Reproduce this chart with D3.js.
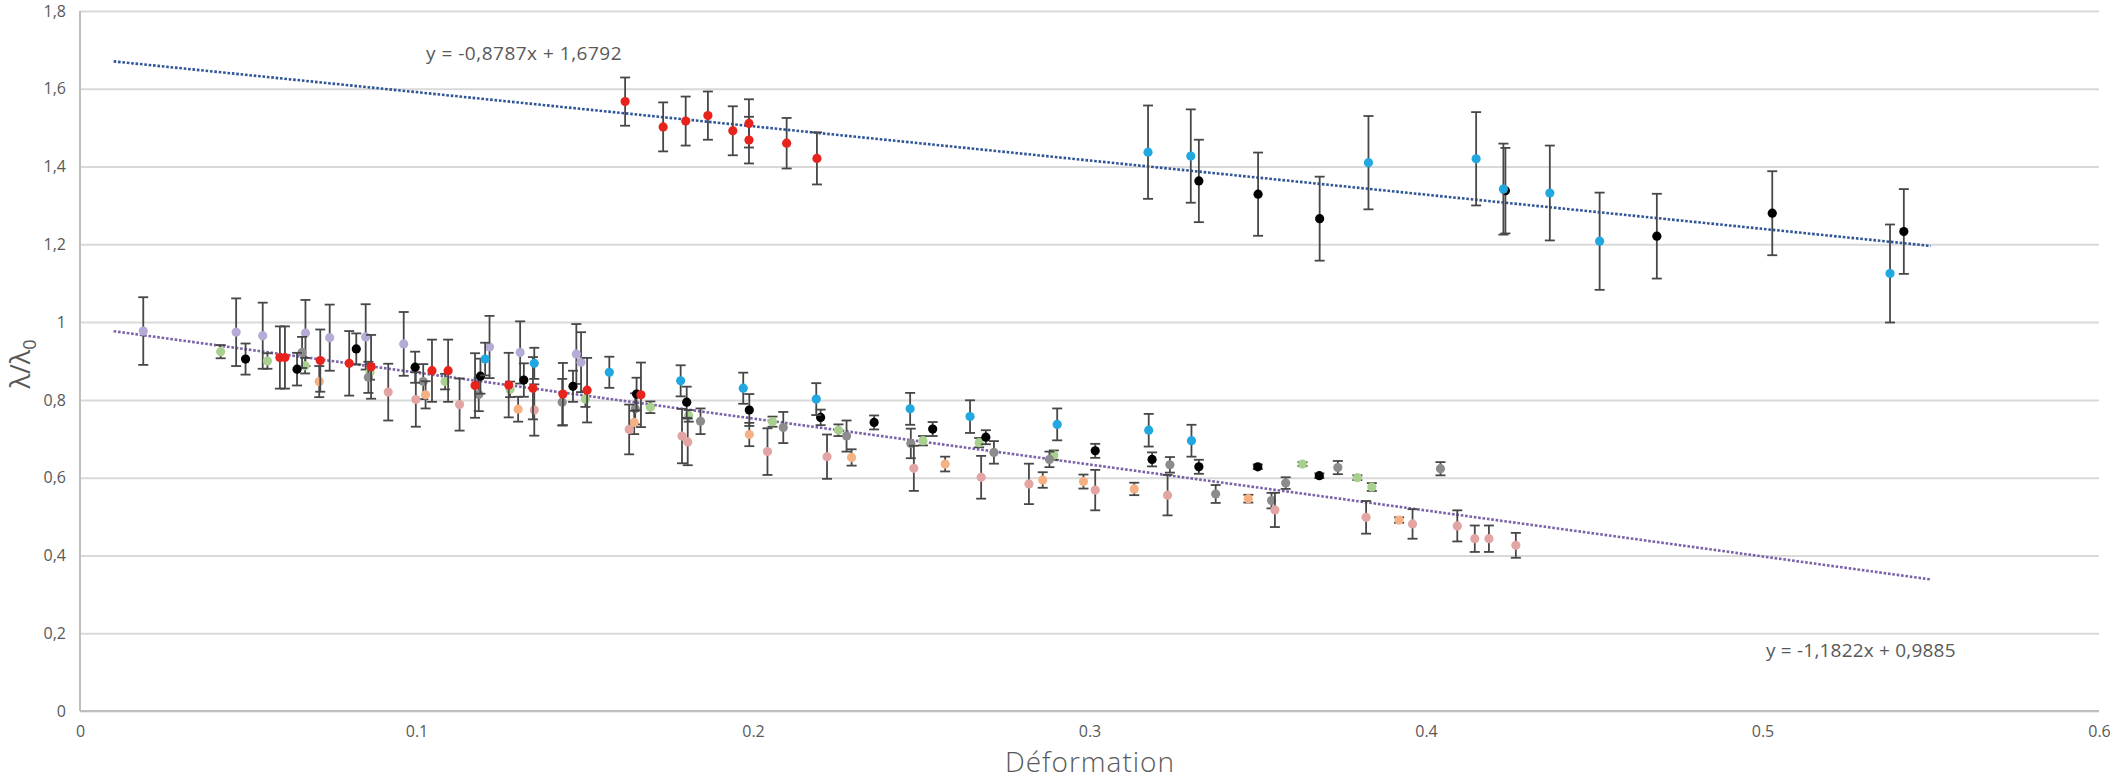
<!DOCTYPE html>
<html>
<head>
<meta charset="utf-8">
<script src="https://cdn.jsdelivr.net/npm/d3@7"></script>
<style>
  body { margin: 0; background: #fff; }
  svg { display: block; }
</style>
</head>
<body>
<div id="chart"></div>
<script>
// ---- data: each point is [deformation, lambda/lambda0, error] ----
const lavender = [
  [0.0188, 0.977, 0.087], [0.0464, 0.974, 0.087], [0.0543, 0.965, 0.085],
  [0.0670, 0.972, 0.085], [0.0742, 0.960, 0.085], [0.0849, 0.962, 0.084],
  [0.0962, 0.944, 0.082], [0.1217, 0.936, 0.080], [0.1308, 0.922, 0.080],
  [0.1475, 0.918, 0.077], [0.1489, 0.897, 0.077]
];
const green = [
  [0.0418, 0.924, 0.017], [0.0557, 0.900, 0.020], [0.0669, 0.888, 0.020],
  [0.0862, 0.872, 0.020], [0.1085, 0.847, 0.020], [0.1278, 0.827, 0.020],
  [0.1502, 0.802, 0.020], [0.1695, 0.781, 0.015], [0.1809, 0.759, 0.015],
  [0.2058, 0.744, 0.013], [0.2254, 0.722, 0.015], [0.2505, 0.695, 0.012],
  [0.2672, 0.690, 0.012], [0.2894, 0.658, 0.012], [0.3633, 0.635, 0.005],
  [0.3796, 0.600, 0.006], [0.3839, 0.576, 0.010]
];
const gray = [
  [0.0660, 0.922, 0.040], [0.0857, 0.858, 0.040], [0.1020, 0.847, 0.045],
  [0.1185, 0.814, 0.043], [0.1433, 0.794, 0.060], [0.1650, 0.777, 0.040],
  [0.1844, 0.745, 0.033], [0.2090, 0.729, 0.040], [0.2278, 0.707, 0.040],
  [0.2469, 0.688, 0.038], [0.2716, 0.665, 0.029], [0.2881, 0.647, 0.020],
  [0.3239, 0.633, 0.020], [0.3375, 0.558, 0.023], [0.3541, 0.541, 0.020],
  [0.3583, 0.586, 0.015], [0.3738, 0.626, 0.017], [0.4043, 0.623, 0.017]
];
const orange = [
  [0.0711, 0.847, 0.040], [0.1027, 0.813, 0.035], [0.1302, 0.776, 0.032],
  [0.1647, 0.742, 0.030], [0.1989, 0.711, 0.030], [0.2293, 0.652, 0.021],
  [0.2571, 0.635, 0.019], [0.2861, 0.594, 0.020], [0.2982, 0.590, 0.018],
  [0.3133, 0.571, 0.016], [0.3472, 0.546, 0.010], [0.3920, 0.491, 0.007]
];
const pink = [
  [0.0916, 0.820, 0.073], [0.0998, 0.801, 0.070], [0.1128, 0.788, 0.067],
  [0.1350, 0.774, 0.066], [0.1632, 0.724, 0.064], [0.1789, 0.707, 0.070],
  [0.1806, 0.692, 0.060], [0.2043, 0.667, 0.060], [0.2220, 0.654, 0.057],
  [0.2478, 0.624, 0.058], [0.2678, 0.601, 0.055], [0.2820, 0.584, 0.052],
  [0.3017, 0.568, 0.052], [0.3232, 0.555, 0.052], [0.3551, 0.517, 0.044],
  [0.3822, 0.498, 0.042], [0.3960, 0.481, 0.038], [0.4093, 0.476, 0.040],
  [0.4145, 0.443, 0.034], [0.4187, 0.443, 0.034], [0.4267, 0.426, 0.032]
];
const black = [
  [0.0492, 0.905, 0.040], [0.0645, 0.879, 0.042], [0.0821, 0.931, 0.040],
  [0.0996, 0.884, 0.040], [0.1190, 0.861, 0.045], [0.1319, 0.851, 0.043],
  [0.1465, 0.835, 0.040], [0.1654, 0.815, 0.042], [0.1803, 0.794, 0.040],
  [0.1989, 0.774, 0.041], [0.2201, 0.755, 0.020], [0.2360, 0.742, 0.018],
  [0.2534, 0.725, 0.018], [0.2692, 0.704, 0.018], [0.3017, 0.669, 0.018],
  [0.3186, 0.647, 0.018], [0.3325, 0.628, 0.018], [0.3500, 0.628, 0.006],
  [0.3683, 0.605, 0.006],
  [0.3325, 1.363, 0.106], [0.3501, 1.329, 0.107], [0.3684, 1.266, 0.108],
  [0.4236, 1.338, 0.110], [0.4686, 1.221, 0.109], [0.5029, 1.280, 0.108],
  [0.5420, 1.233, 0.109]
];
const red = [
  [0.0594, 0.909, 0.080], [0.0609, 0.909, 0.080], [0.0714, 0.901, 0.080],
  [0.0800, 0.894, 0.083], [0.0865, 0.885, 0.082], [0.1046, 0.875, 0.080],
  [0.1094, 0.875, 0.080], [0.1174, 0.837, 0.083], [0.1274, 0.838, 0.083],
  [0.1346, 0.830, 0.080], [0.1435, 0.815, 0.080], [0.1507, 0.825, 0.083],
  [0.1667, 0.813, 0.083],
  [0.1620, 1.567, 0.062], [0.1733, 1.502, 0.063], [0.1800, 1.517, 0.063],
  [0.1866, 1.531, 0.062], [0.1940, 1.492, 0.063], [0.1988, 1.511, 0.062],
  [0.1988, 1.468, 0.060], [0.2100, 1.460, 0.065], [0.2190, 1.421, 0.067]
];
const blue = [
  [0.1204, 0.905, 0.042], [0.1350, 0.894, 0.040], [0.1573, 0.871, 0.040],
  [0.1785, 0.849, 0.040], [0.1971, 0.830, 0.040], [0.2188, 0.802, 0.041],
  [0.2467, 0.777, 0.041], [0.2645, 0.757, 0.042], [0.2904, 0.737, 0.041],
  [0.3176, 0.722, 0.042], [0.3303, 0.695, 0.041],
  [0.3174, 1.437, 0.120], [0.3301, 1.427, 0.120], [0.3829, 1.410, 0.120],
  [0.4149, 1.420, 0.120], [0.4230, 1.342, 0.117], [0.4368, 1.332, 0.122],
  [0.4516, 1.208, 0.125], [0.5379, 1.125, 0.126]
];

// linear trendlines: [slope, intercept], drawn from 0.01 to 0.55
const trendUpper = [-0.8787, 1.6792];
const trendLower = [-1.1822, 0.9885];
const trendRange = [0.01, 0.55];
const trendLabels = ["y = -0,8787x + 1,6792", "y = -1,1822x + 0,9885"];

const xTicks = [0, 0.1, 0.2, 0.3, 0.4, 0.5, 0.6];
const xTickLabels = ["0", "0.1", "0.2", "0.3", "0.4", "0.5", "0.6"];
const yTicks = [0, 0.2, 0.4, 0.6, 0.8, 1, 1.2, 1.4, 1.6, 1.8];
const yTickLabels = ["0", "0,2", "0,4", "0,6", "0,8", "1", "1,2", "1,4", "1,6", "1,8"];

// ========================
// Setup
// ========================
const width = 2114, height = 780;
const plot = { left: 80, right: 2099, top: 11, bottom: 711 };
const textColor = "#595959";
const tickFont = "'Liberation Sans Narrow', 'Arial Narrow', 'Open Sans', sans-serif";

const svg = d3.select("#chart").append("svg")
  .attr("width", width)
  .attr("height", height)
  .style("background", "#fff");

const x = d3.scaleLinear().domain([0, 0.6]).range([plot.left, plot.right]);
const y = d3.scaleLinear().domain([0, 1.8]).range([plot.bottom, plot.top]);

// --- gridlines + y labels ---
const yAxis = svg.append("g")
  .attr("transform", `translate(${plot.left},0)`)
  .call(d3.axisLeft(y)
    .tickValues(yTicks)
    .tickSize(-(plot.right - plot.left))
    .tickPadding(14)
    .tickFormat((d, i) => yTickLabels[i]));
yAxis.select(".domain").remove();
yAxis.selectAll(".tick line")
  .attr("stroke", "#d9d9d9")
  .attr("stroke-width", 2);
yAxis.selectAll(".tick text")
  .attr("fill", textColor)
  .style("font-family", tickFont)
  .style("font-size", "16px");

// --- x labels ---
const xAxis = svg.append("g")
  .attr("transform", `translate(0,${plot.bottom})`)
  .call(d3.axisBottom(x)
    .tickValues(xTicks)
    .tickSize(0)
    .tickPadding(15)
    .tickFormat((d, i) => xTickLabels[i]));
xAxis.select(".domain").remove();
xAxis.selectAll(".tick text")
  .attr("fill", textColor)
  .style("font-family", tickFont)
  .style("font-size", "16px");

// axis lines
svg.append("line")
  .attr("x1", plot.left).attr("x2", plot.left)
  .attr("y1", plot.top).attr("y2", plot.bottom)
  .attr("stroke", "#bfbfbf").attr("stroke-width", 2);
svg.append("line")
  .attr("x1", plot.left).attr("x2", plot.right)
  .attr("y1", plot.bottom).attr("y2", plot.bottom)
  .attr("stroke", "#bfbfbf").attr("stroke-width", 2);

// --- trendlines ---
function drawTrend(coef, color) {
  const pts = trendRange.map(v => [x(v), y(coef[0] * v + coef[1])]);
  svg.append("path")
    .attr("d", d3.line()(pts))
    .attr("fill", "none")
    .attr("stroke", color)
    .attr("stroke-width", 2.6)
    .attr("stroke-dasharray", "2.6,1.8");
}
drawTrend(trendUpper, "#2f5597");
drawTrend(trendLower, "#7a62a8");

// --- series (error bars then markers) ---
const series = [
  { data: lavender, color: "#b6abd6" },
  { data: green, color: "#a9d08e" },
  { data: gray, color: "#8c8c8c" },
  { data: orange, color: "#f5b183" },
  { data: pink, color: "#e3a5a3" },
  { data: black, color: "#000000" },
  { data: red, color: "#e8231c" },
  { data: blue, color: "#22a8e0" }
];
const cap = 5;

series.forEach(s => {
  const g = svg.append("g");
  const bars = g.selectAll(".err")
    .data(s.data)
    .enter()
    .append("g")
    .attr("class", "err")
    .attr("stroke", "#474747")
    .attr("stroke-width", 1.8);
  bars.append("line")
    .attr("x1", d => x(d[0])).attr("x2", d => x(d[0]))
    .attr("y1", d => y(d[1] + d[2])).attr("y2", d => y(d[1] - d[2]));
  bars.append("line")
    .attr("x1", d => x(d[0]) - cap).attr("x2", d => x(d[0]) + cap)
    .attr("y1", d => y(d[1] + d[2])).attr("y2", d => y(d[1] + d[2]));
  bars.append("line")
    .attr("x1", d => x(d[0]) - cap).attr("x2", d => x(d[0]) + cap)
    .attr("y1", d => y(d[1] - d[2])).attr("y2", d => y(d[1] - d[2]));

  g.selectAll("circle")
    .data(s.data)
    .enter()
    .append("circle")
    .attr("cx", d => x(d[0]))
    .attr("cy", d => y(d[1]))
    .attr("r", 4.6)
    .attr("fill", s.color);
});

// --- trendline equations ---
svg.append("text")
  .attr("x", 426).attr("y", 60)
  .attr("fill", textColor)
  .style("font-family", "'Open Sans', sans-serif")
  .style("font-size", "19px")
  .style("letter-spacing", "0.5px")
  .text(trendLabels[0]);
svg.append("text")
  .attr("x", 1766).attr("y", 657)
  .attr("fill", textColor)
  .style("font-family", "'Open Sans', sans-serif")
  .style("font-size", "19px")
  .style("letter-spacing", "0.2px")
  .text(trendLabels[1]);

// --- axis titles ---
svg.append("text")
  .attr("x", 1090)
  .attr("y", 772)
  .attr("text-anchor", "middle")
  .attr("fill", textColor)
  .style("font-family", "'Open Sans', sans-serif")
  .style("font-weight", 300)
  .style("font-size", "28px")
  .style("letter-spacing", "1px")
  .text("Déformation");

const yTitle = svg.append("text")
  .attr("transform", "translate(30,364) rotate(-90)")
  .attr("text-anchor", "middle")
  .attr("fill", textColor)
  .style("font-family", "'Open Sans', sans-serif")
  .style("font-size", "27px");
yTitle.append("tspan").text("λ/λ");
yTitle.append("tspan")
  .attr("dy", 6)
  .style("font-size", "18px")
  .text("0");
</script>
</body>
</html>
